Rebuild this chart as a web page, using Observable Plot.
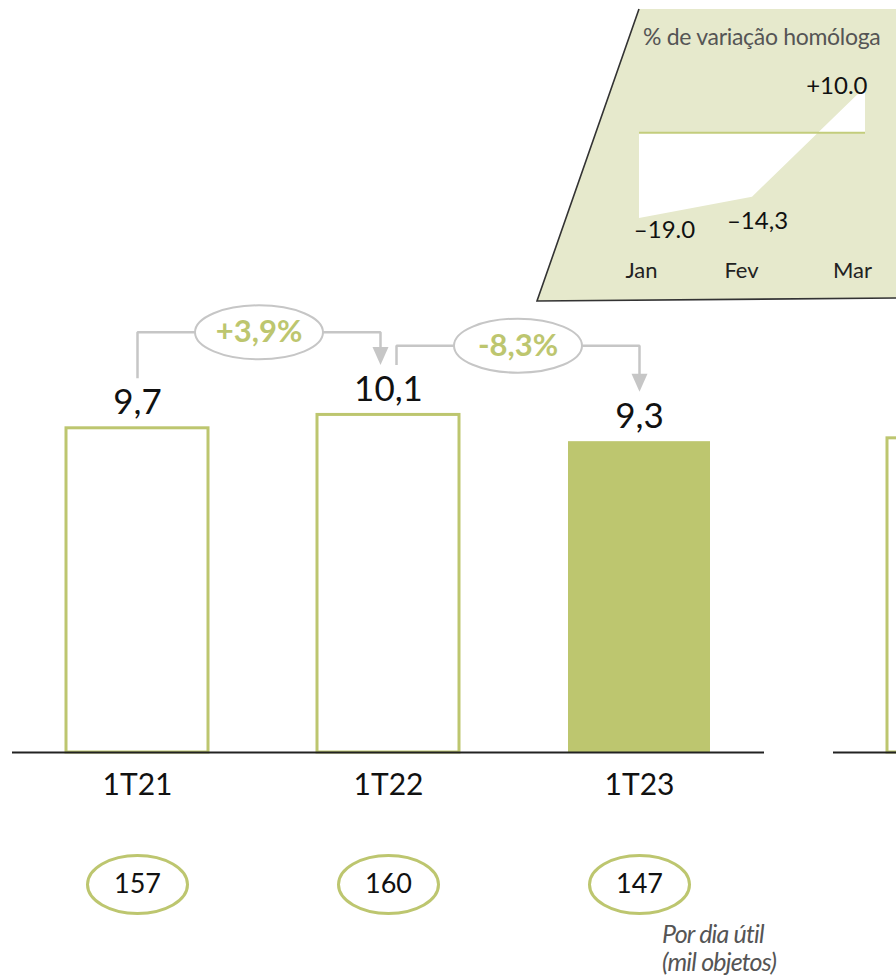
<!DOCTYPE html>
<html><head><meta charset="utf-8">
<script src="https://cdn.jsdelivr.net/npm/d3@7"></script>
<script src="https://cdn.jsdelivr.net/npm/@observablehq/plot@0.6"></script>
<style>
body{margin:0;width:896px;height:980px;overflow:hidden;position:relative;background:#fff;font-family:Lato,sans-serif}
.abs{position:absolute}
</style></head><body>
<div id="main" class="abs" style="left:0;top:0;width:896px"></div>
<div id="next" class="abs" style="left:821px;top:0;width:263px"></div>
<svg class="abs" style="left:0;top:0" width="896" height="320"><polygon points="639,9 896,9 896,298 537,301" fill="#e6e9cc"/><polyline points="639,9 537,301 896,298" fill="none" stroke="#333" stroke-width="1.6"/></svg>
<div id="inset" class="abs" style="left:530px;top:0;width:366px"></div>
<div class="abs" style="left:643px;top:22px;font-size:23px;color:#555;white-space:nowrap;letter-spacing:-0.3px">% de variação homóloga</div>
<div class="abs" style="left:662px;top:919px;font-size:25px;line-height:28px;color:#555;font-style:italic;letter-spacing:-0.8px">Por dia útil<br>(mil objetos)</div>
<script>
// ---- data ----
const categories = ["1T21", "1T22", "1T23"];
const values = [9.7, 10.1, 9.3];
const perDay = [157, 160, 147];
const changeLabels = ["+3,9%", "-8,3%"];
const highlighted = "1T23";
const nextChartCategories = ["1T21"];
const nextChartValues = [9.4];
const months = ["Jan", "Fev", "Mar"];
const monthlyChange = [-19.0, -14.3, 10.0];
const monthlyLabels = ["\u201319.0", "\u201314,3", "+10.0"];

// ---- styling / layout ----
const green = "#bdc66f", gray = "#c6c6c6", ink = "#111";
const W = 896, H = 915, mL = 12, mR = 132, mT = 0, mB = 163, yMax = 22.5, pI = 0.434, pO = 0.215;
const step = (W - mL - mR) / (categories.length - pI + 2 * pO);
const font = "Lato, sans-serif";

const bars = categories.map((c, i) => ({cat: c, value: values[i], perDay: perDay[i]}));
const comps = changeLabels.map((label, i) => ({from: categories[i], to: categories[i + 1], vf: values[i], vt: values[i + 1], label}));
const fmt = v => v.toFixed(1).replace(".", ",");

function ellipseSymbol(rx, ry) {
  const k = 0.5523, kx = rx * k, ky = ry * k;
  return {draw(ctx) {
    ctx.moveTo(rx, 0);
    ctx.bezierCurveTo(rx, ky, kx, ry, 0, ry);
    ctx.bezierCurveTo(-kx, ry, -rx, ky, -rx, 0);
    ctx.bezierCurveTo(-rx, -ky, -kx, -ry, 0, -ry);
    ctx.bezierCurveTo(kx, -ry, rx, -ky, rx, 0);
    ctx.closePath();
  }};
}
const triDown = (hw, hh) => ({draw(ctx) { ctx.moveTo(-hw, -hh); ctx.lineTo(hw, -hh); ctx.lineTo(0, hh); ctx.closePath(); }});
function elbow({startDx, endDx, startGap, endGap, rise}) {
  return (ctx) => {
    let p = [];
    return {
      areaStart() {}, areaEnd() {},
      lineStart() { p = []; },
      point(x, y) { p.push([+x, +y]); },
      lineEnd() {
        if (p.length < 2) return;
        const [[x1, y1], [x2, y2]] = p;
        const lvl = Math.max(y1, y2) - rise;
        ctx.moveTo(x1 + startDx, y1 - startGap);
        ctx.lineTo(x1 + startDx, lvl);
        ctx.lineTo(x2 + endDx, lvl);
        ctx.lineTo(x2 + endDx, y2 - endGap);
      }
    };
  };
}

const compMarks = comps.flatMap((c, i) => {
  const startDx = i > 0 ? 8 : 0, endDx = i < comps.length - 1 ? -8 : 0;
  const midDx = step / 2 + (startDx + endDx) / 2;
  const lower = Math.min(c.vf, c.vt);
  return [
    Plot.link([c], {x1: "from", y1: "vf", x2: "to", y2: "vt", stroke: gray, strokeWidth: 2.5,
      curve: elbow({startDx, endDx, startGap: 50, endGap: 66, rise: 96})}),
    Plot.dot([c], {x: "to", y: "vt", dx: endDx, dy: -59, symbol: triDown(8, 9), fill: gray, stroke: "none"}),
    Plot.dot([c], {x: "from", y: () => lower, dx: midDx, dy: -96, symbol: ellipseSymbol(64, 27), fill: "white", stroke: gray, strokeWidth: 2}),
    Plot.text([c], {x: "from", y: () => lower, dx: midDx, dy: -96, text: "label", fill: green, fontWeight: "bold", fontSize: 31, fontFamily: font})
  ];
});

const main = Plot.plot({
  width: W, height: H, marginLeft: mL, marginRight: mR, marginTop: mT, marginBottom: mB,
  style: {background: "transparent", maxWidth: "none", overflow: "visible", fontFamily: font},
  x: {domain: categories, paddingInner: pI, paddingOuter: pO, axis: null},
  y: {domain: [0, yMax], axis: null},
  marks: [
    Plot.barY(bars.filter(d => d.cat !== highlighted), {x: "cat", y: "value", fill: "white", stroke: green, strokeWidth: 3}),
    Plot.barY(bars.filter(d => d.cat === highlighted), {x: "cat", y: "value", fill: green}),
    Plot.ruleY([0], {stroke: "#222", strokeWidth: 2}),
    Plot.text(bars, {x: "cat", y: "value", text: d => fmt(d.value), dy: -14, lineAnchor: "bottom", fontSize: 35, fill: ink, fontFamily: font}),
    Plot.text(bars, {x: "cat", y: () => 0, text: "cat", dy: 42, lineAnchor: "bottom", fontSize: 30, fill: ink, fontFamily: font}),
    Plot.dot(bars, {x: "cat", y: () => 0, dy: 132, symbol: ellipseSymbol(50, 29), stroke: green, strokeWidth: 3, fill: "white"}),
    Plot.text(bars, {x: "cat", y: () => 0, dy: 132, text: d => String(d.perDay), fontSize: 27, fill: ink, fontFamily: font}),
    ...compMarks
  ]
});
document.getElementById("main").appendChild(main);

const nextBars = nextChartCategories.map((c, i) => ({cat: c, value: nextChartValues[i]}));
const next = Plot.plot({
  width: 263, height: H, marginLeft: mL, marginRight: 0, marginTop: mT, marginBottom: mB,
  style: {background: "transparent", maxWidth: "none", overflow: "visible"},
  x: {domain: nextChartCategories, paddingInner: pI, paddingOuter: pO, axis: null},
  y: {domain: [0, yMax], axis: null},
  marks: [
    Plot.barY(nextBars, {x: "cat", y: "value", fill: "white", stroke: green, strokeWidth: 3}),
    Plot.ruleY([0], {stroke: "#222", strokeWidth: 2})
  ]
});
document.getElementById("next").appendChild(next);

const inset = months.map((m, i) => ({month: m, value: monthlyChange[i], label: monthlyLabels[i]}));
const labelStyle = [{dx: 25, dy: 19, anchor: "middle"}, {dx: 5, dy: 32, anchor: "middle"}, {dx: 2, dy: 6, anchor: "end"}];
const monthDx = [2, -11, -13];
const insetPlot = Plot.plot({
  width: 366, height: 310, marginLeft: 109, marginRight: 31, marginTop: 0, marginBottom: 0,
  style: {background: "transparent", maxWidth: "none", overflow: "visible", fontFamily: font},
  x: {type: "point", domain: months, padding: 0, axis: null},
  y: {domain: [-19, 10], range: [218, 87], axis: null},
  marks: [
    Plot.areaY(inset, {x: "month", y: "value", fill: "white"}),
    Plot.ruleY([0], {stroke: "#c3cd7c", strokeWidth: 2}),
    ...inset.map((d, i) => Plot.text([d], {x: "month", y: () => -19, dy: 59, dx: monthDx[i], text: "month", lineAnchor: "bottom", fontSize: 22, fill: "#222", fontFamily: font})),
    ...inset.map((d, i) => Plot.text([d], {x: "month", y: "value", text: "label", dx: labelStyle[i].dx, dy: labelStyle[i].dy,
      textAnchor: labelStyle[i].anchor, lineAnchor: "bottom", fontSize: 24, fill: ink, fontFamily: font}))
  ]
});
document.getElementById("inset").appendChild(insetPlot);
</script>
</body></html>
